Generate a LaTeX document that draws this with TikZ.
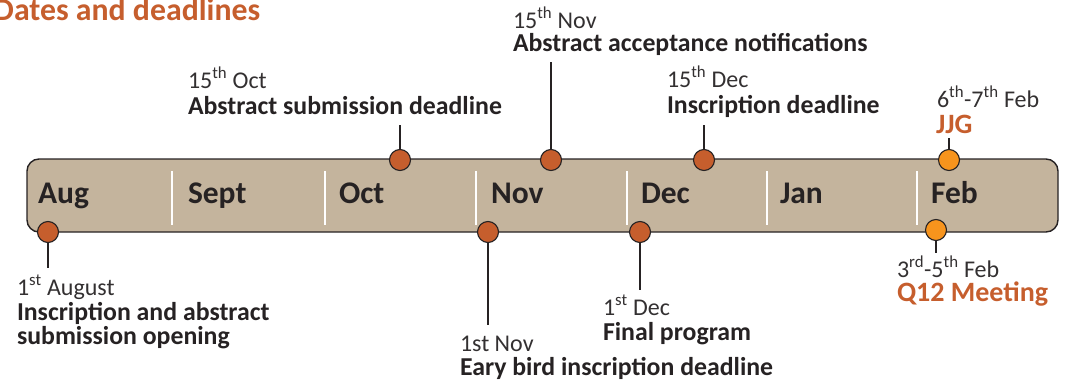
\documentclass[tikz,border=0pt]{standalone}
\usepackage{fontspec}
\setmainfont{Carlito}
\definecolor{tan}{HTML}{C4B49D}
\definecolor{rust}{HTML}{C65E2D}
\definecolor{amber}{HTML}{F7941D}
\definecolor{ink}{HTML}{262223}
\definecolor{soft}{HTML}{333031}
\tikzset{
  every node/.style={inner sep=0pt, outer sep=0pt},
  month/.style={anchor=base west, text=ink, font=\fontsize{31.5}{34}\selectfont\bfseries},
  datetxt/.style={anchor=base west, text=soft, font=\fontsize{24}{28}\selectfont},
  eventtxt/.style={anchor=base west, text=ink, font=\fontsize{25.8}{28}\selectfont\bfseries},
  hightxt/.style={anchor=base west, text=rust, font=\fontsize{28}{30}\selectfont\bfseries},
  dot/.style={circle, minimum size=21pt, draw=ink, line width=1.1pt, fill=rust},
  dotB/.style={dot, fill=amber},
  stem/.style={draw=ink, line width=1.4pt},
  divider/.style={draw=white, line width=1.6pt},
}
\begin{document}
\begin{tikzpicture}[x=1pt,y=-1pt]
\useasboundingbox (0,0) rectangle (1066,380);
% title
\node[anchor=base west, text=rust, font=\fontsize{31.8}{34}\selectfont\bfseries] (title) at (-6,20) {Dates and deadlines};
% bar
\draw[fill=tan, draw=ink, line width=1.4pt, rounded corners=12pt] (27,159) rectangle (1058,232);
\foreach \x in {172,325,476,627,767,917} \draw[divider] (\x,171) -- (\x,225);
\node[month] (mAug) at (38,203) {Aug};
\node[month] (mSep) at (188,203) {Sept};
\node[month] (mOct) at (339,203) {Oct};
\node[month] (mNov) at (491,203) {Nov};
\node[month] (mDec) at (641,203) {Dec};
\node[month] (mJan) at (780,203) {Jan};
\node[month] (mFeb) at (931,203) {Feb};
% stem ends
\coordinate (eAug) at (48,268);
\coordinate (eOct) at (400,125);
\coordinate (eNovA) at (551,62);
\coordinate (eDecA) at (704,125);
\coordinate (eJJG) at (949,138);
\coordinate (eNovB) at (488,325);
\coordinate (eDecB) at (640,290);
\coordinate (eQ) at (936,253);
% dots
\node[dot] (dAug) at (48,232) {};
\node[dot] (dOct) at (400,160) {};
\node[dot] (dNovA) at (551,160) {};
\node[dot] (dDecA) at (704,160) {};
\node[dotB] (dJJG) at (949,160) {};
\node[dot] (dNovB) at (488,232) {};
\node[dot] (dDecB) at (640,232) {};
\node[dotB] (dQ) at (936,230) {};
\draw[stem] (dAug.south) -- (eAug);
\draw[stem] (dOct.north) -- (eOct);
\draw[stem] (dNovA.north) -- (eNovA);
\draw[stem] (dDecA.north) -- (eDecA);
\draw[stem] (dJJG.north) -- (eJJG);
\draw[stem] (dNovB.south) -- (eNovB);
\draw[stem] (dDecB.south) -- (eDecB);
\draw[stem] (dQ.south) -- (eQ);
% labels
\node[datetxt] (tAug1) at (17,295) {1\textsuperscript{st} August};
\node[eventtxt] (tAug2) at (17,320) {Inscription and abstract};
\node[eventtxt] (tAug3) at (17,344) {submission opening};
\node[datetxt] (tOct1) at (188,88) {15\textsuperscript{th} Oct};
\node[eventtxt] (tOct2) at (188,114) {Abstract submission deadline};
\node[datetxt] (tNovA1) at (513,28) {15\textsuperscript{th} Nov};
\node[eventtxt] (tNovA2) at (513,51) {Abstract acceptance notifications};
\node[datetxt] (tDecA1) at (667,87) {15\textsuperscript{th} Dec};
\node[eventtxt] (tDecA2) at (667,113) {Inscription deadline};
\node[datetxt] (tJJG1) at (937,107) {6\textsuperscript{th}-7\textsuperscript{th} Feb};
\node[hightxt] (tJJG2) at (936,133) {JJG};
\node[datetxt] (tNovB1) at (460,351) {1st Nov};
\node[eventtxt] (tNovB2) at (460,375) {Eary bird inscription deadline};
\node[datetxt] (tDecB1) at (603,315) {1\textsuperscript{st} Dec};
\node[eventtxt] (tDecB2) at (603,340) {Final program};
\node[datetxt] (tQ1) at (897,277) {3\textsuperscript{rd}-5\textsuperscript{th} Feb};
\node[hightxt] (tQ2) at (897,301) {Q12 Meeting};
\end{tikzpicture}
\end{document}
